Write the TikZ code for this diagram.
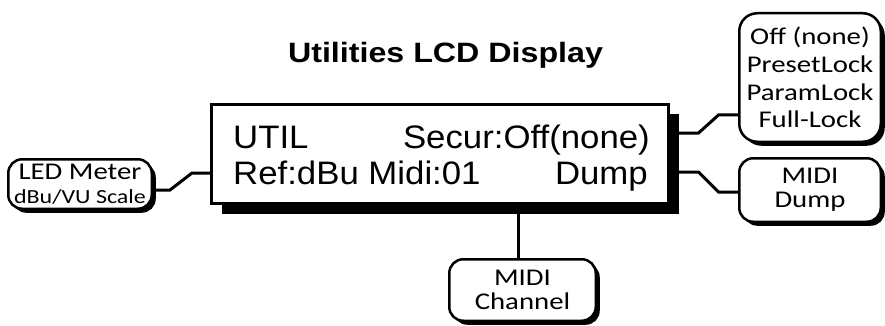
\documentclass[tikz,border=0pt]{standalone}
\usepackage{fontspec}
\setmainfont{Liberation Sans}
\newfontfamily\lcdfont[FakeStretch=1.07]{Liberation Sans}
\newfontfamily\titlefont[FakeStretch=1.15]{Liberation Sans}
\newfontfamily\callfont[FakeStretch=1.2]{Carlito}
\usetikzlibrary{shadows,calc}
\begin{document}
\begin{tikzpicture}[x=1pt,y=-1pt,
  lcdbox/.style={draw=black, fill=white, line width=3pt, inner sep=0pt,
    drop shadow={shadow xshift=10pt, shadow yshift=-10pt, opacity=1, fill=black}},
  callbox/.style={draw=black, fill=white, line width=2.5pt, inner sep=0pt,
    rounded corners=14pt, align=center,
    font=\callfont\fontsize{24}{24}\selectfont,
    drop shadow={shadow xshift=4pt, shadow yshift=-4pt, opacity=1, fill=black}},
  lcdtext/.style={inner sep=0pt, font=\lcdfont\fontsize{32.5}{36}\selectfont},
  conn/.style={draw=black, line width=3pt}
]
\useasboundingbox (0,0) rectangle (885,326);
\fill[white] (0,0) rectangle (885,326);

\node[inner sep=0pt, anchor=base, font=\titlefont\bfseries\fontsize{28}{30}\selectfont] (title) at (445.5,63) {Utilities LCD Display};

\node[lcdbox, minimum width=457pt, minimum height=99pt] (lcd) at (440,154) {};
\node[lcdtext, anchor=base west] (util) at (233,148) {UTIL};
\node[lcdtext, anchor=base east] (secur) at (650,148) {Secur:Off(none)};
\node[lcdtext, anchor=base west] (ref) at (233,184) {Ref:dBu Midi:01};
\node[lcdtext, anchor=base east] (dump) at (648,184) {Dump};

\node[callbox, rounded corners=18pt, minimum width=141.5pt, minimum height=128.5pt,
  font=\callfont\fontsize{24}{27.7}\selectfont] (tr) at (810,77.5)
  {Off (none)\\PresetLock\\ParamLock\\Full-Lock};
\node[callbox, minimum width=141.5pt, minimum height=63.5pt] (md) at (810,190) {MIDI\\Dump};
\node[callbox, minimum width=146.5pt, minimum height=61.5pt] (mc) at (522.5,290) {MIDI\\Channel};
\node[callbox, minimum width=143.5pt, minimum height=49.5pt] (led) at (80,184)
  {LED Meter\\{\fontsize{20}{24}\selectfont dBu/VU Scale}};

\draw[conn] ([yshift=-6pt]led.east) -- ++(17,0) -- ++(22,-17) -- ([yshift=-19pt]lcd.west);
\draw[conn] ([yshift=21pt]lcd.east) -- ++(28.5,0) -- ++(20,-18) -- ([yshift=-37.5pt]tr.west);
\draw[conn] ([yshift=-18pt]lcd.east) -- ++(28.5,0) -- ++(20,20) -- ([yshift=-2pt]md.west);
\draw[conn] ([xshift=-4.5pt]mc.north) -- ([xshift=-4.5pt]mc.north |- lcd.south);
\end{tikzpicture}
\end{document}
